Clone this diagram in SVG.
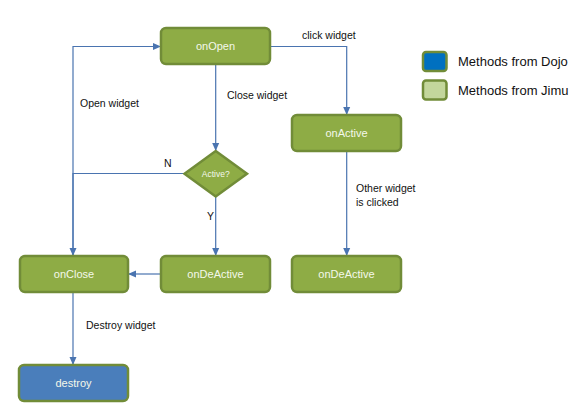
<svg xmlns="http://www.w3.org/2000/svg" width="584" height="420" viewBox="0 0 584 420">
<defs>
<style>
.node{fill:#8eac45;stroke:#718c38;stroke-width:2.5}
.dojo{fill:#4a7ebb;stroke:#718c38;stroke-width:2.5}
.nt{font-family:"Liberation Sans",Arial,sans-serif;font-size:11px;fill:#f4f8ea;text-anchor:middle;dominant-baseline:central}
.lbl{font-family:"Liberation Sans",Arial,sans-serif;font-size:10.5px;fill:#111}
.leg{font-family:"Liberation Sans",Arial,sans-serif;font-size:13px;fill:#111;dominant-baseline:central}
.edge{fill:none;stroke:#4a74b0;stroke-width:1.2}
</style>
<marker id="arr" markerWidth="8" markerHeight="8" refX="7" refY="4" orient="auto" markerUnits="userSpaceOnUse">
<path d="M0,0.5 L8,4 L0,7.5 Z" fill="#4a74b0"/>
</marker>
</defs>
<rect width="584" height="420" fill="#ffffff"/>
<g id="connectors">
<path class="edge" d="M73,256 L73,46.5 L160,46.5" marker-end="url(#arr)"/>
<path class="edge" d="M184,173.5 L73,173.5 L73,255" marker-end="url(#arr)"/>
<path class="edge" d="M215.7,64 L215.7,150" marker-end="url(#arr)"/>
<path class="edge" d="M270,46.5 L346.7,46.5 L346.7,114" marker-end="url(#arr)"/>
<path class="edge" d="M215.7,197 L215.7,255" marker-end="url(#arr)"/>
<path class="edge" d="M161,274 L129,274" marker-end="url(#arr)"/>
<path class="edge" d="M346.7,151 L346.7,255" marker-end="url(#arr)"/>
<path class="edge" d="M73,292 L73,364" marker-end="url(#arr)"/>
<text class="lbl" x="80" y="107">Open widget</text>
<text class="lbl" x="227" y="99">Close widget</text>
<text class="lbl" x="302" y="39">click widget</text>
<text class="lbl" x="164" y="167">N</text>
<text class="lbl" x="207" y="220">Y</text>
<text class="lbl" x="356" y="192">Other widget</text>
<text class="lbl" x="356" y="206">is clicked</text>
<text class="lbl" x="86" y="329">Destroy widget</text>
</g>
<g id="onOpen">
<rect class="node" x="161" y="28" width="109" height="36" rx="5"/>
<text class="nt" x="215.5" y="46">onOpen</text>
</g>
<g id="active">
<polygon class="node" points="215.7,151 247,173.7 215.7,196.5 184.5,173.7"/>
<text class="nt" x="215.7" y="173.7" style="font-size:8.5px">Active?</text>
</g>
<g id="onActive">
<rect class="node" x="292" y="115" width="109" height="36" rx="5"/>
<text class="nt" x="346.5" y="133">onActive</text>
</g>
<g id="onClose">
<rect class="node" x="20" y="256" width="108" height="36" rx="5"/>
<text class="nt" x="74" y="274">onClose</text>
</g>
<g id="onDeActive1">
<rect class="node" x="161" y="256" width="109" height="36" rx="5"/>
<text class="nt" x="215.5" y="274">onDeActive</text>
</g>
<g id="onDeActive2">
<rect class="node" x="292" y="256" width="109" height="36" rx="5"/>
<text class="nt" x="346.5" y="274">onDeActive</text>
</g>
<g id="destroy">
<rect class="dojo" x="19" y="365" width="109" height="36" rx="5"/>
<text class="nt" x="73.5" y="383">destroy</text>
</g>
<g id="legend">
<rect x="423" y="52" width="23.5" height="19" rx="3" fill="#0070c0" stroke="#718c38" stroke-width="2.5"/>
<text class="leg" x="458" y="61">Methods from Dojo</text>
<rect x="423" y="80.5" width="23.5" height="19" rx="3" fill="#c3d69b" stroke="#718c38" stroke-width="2.5"/>
<text class="leg" x="458" y="90">Methods from Jimu</text>
</g>
</svg>
